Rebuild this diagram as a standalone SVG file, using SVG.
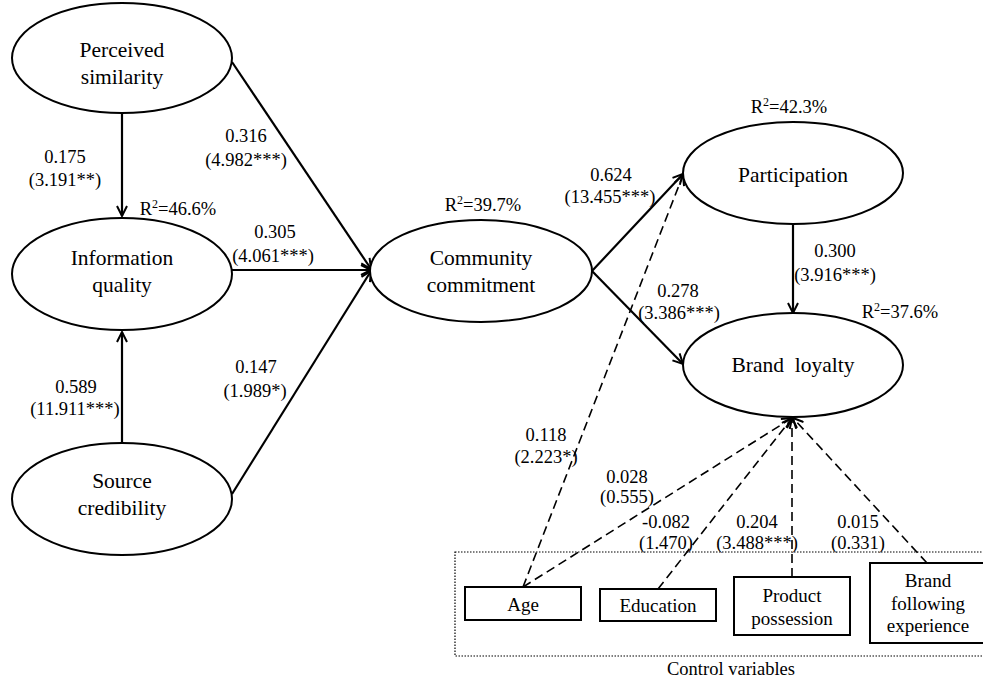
<svg xmlns="http://www.w3.org/2000/svg" width="983" height="679" viewBox="0 0 983 679">
<defs>
<marker id="ah" markerWidth="12" markerHeight="12" refX="11" refY="6" orient="auto" markerUnits="userSpaceOnUse">
<path d="M1,1 L11,6 L1,11" fill="none" stroke="#000" stroke-width="2"/>
</marker>
</defs>
<rect x="455" y="552" width="540" height="104" fill="none" stroke="#000" stroke-width="1.2" stroke-dasharray="1.5,1.5"/>
<g id="connectors" fill="none" stroke="#000">
<g stroke-width="2.2">
<line x1="122" y1="113" x2="122" y2="216" marker-end="url(#ah)"/>
<line x1="122" y1="443" x2="122" y2="332" marker-end="url(#ah)"/>
<line x1="232" y1="62" x2="371" y2="269" marker-end="url(#ah)"/>
<line x1="232" y1="270" x2="371" y2="270" marker-end="url(#ah)"/>
<line x1="232" y1="494" x2="371" y2="271" marker-end="url(#ah)"/>
<line x1="592" y1="271" x2="683" y2="174" marker-end="url(#ah)"/>
<line x1="592" y1="271" x2="683" y2="364" marker-end="url(#ah)"/>
<line x1="793" y1="225" x2="793" y2="313" marker-end="url(#ah)"/>
</g>
<g stroke-width="1.6" stroke-dasharray="9,5">
<line x1="523" y1="587" x2="683" y2="175" marker-end="url(#ah)"/>
<line x1="523" y1="587" x2="792" y2="418" marker-end="url(#ah)"/>
<line x1="658" y1="589" x2="792" y2="418" marker-end="url(#ah)"/>
<line x1="792" y1="577" x2="792" y2="418" marker-end="url(#ah)"/>
<line x1="927" y1="563" x2="793" y2="418" marker-end="url(#ah)"/>
</g>
</g>
<g fill="#fff" stroke="#000" stroke-width="2">
<ellipse id="perceived-similarity-shape" cx="122" cy="58" rx="110" ry="55"/>
<ellipse id="information-quality-shape" cx="122" cy="274" rx="110" ry="56"/>
<ellipse id="source-credibility-shape" cx="122" cy="499" rx="110" ry="56"/>
<ellipse id="community-commitment-shape" cx="481" cy="271" rx="111" ry="51"/>
<ellipse id="participation-shape" cx="793" cy="173" rx="110" ry="51"/>
<ellipse id="brand-loyalty-shape" cx="793" cy="365" rx="110" ry="52"/>
<rect id="age-shape" x="465" y="587" width="116" height="33"/>
<rect id="education-shape" x="600" y="589" width="116" height="32"/>
<rect id="product-possession-shape" x="734" y="577" width="116" height="58"/>
<rect id="brand-following-experience-shape" x="870" y="563" width="118" height="80"/>
</g>
<g id="perceived-similarity">
<text font-family="Liberation Serif" font-size="21.5" text-anchor="middle" x="122" y="57">Perceived</text>
<text font-family="Liberation Serif" font-size="21.5" text-anchor="middle" x="122" y="84">similarity</text>
</g>
<g id="information-quality">
<text font-family="Liberation Serif" font-size="21.5" text-anchor="middle" x="122" y="265">Information</text>
<text font-family="Liberation Serif" font-size="21.5" text-anchor="middle" x="122" y="292">quality</text>
</g>
<g id="source-credibility">
<text font-family="Liberation Serif" font-size="21.5" text-anchor="middle" x="122" y="488">Source</text>
<text font-family="Liberation Serif" font-size="21.5" text-anchor="middle" x="122" y="515">credibility</text>
</g>
<g id="community-commitment">
<text font-family="Liberation Serif" font-size="21.5" text-anchor="middle" x="481" y="265">Community</text>
<text font-family="Liberation Serif" font-size="21.5" text-anchor="middle" x="481" y="292">commitment</text>
</g>
<g id="participation">
<text font-family="Liberation Serif" font-size="21.5" text-anchor="middle" x="793" y="182">Participation</text>
</g>
<g id="brand-loyalty">
<text font-family="Liberation Serif" font-size="21.5" text-anchor="middle" x="793" y="372" xml:space="preserve">Brand  loyalty</text>
</g>
<g id="age">
<text font-family="Liberation Serif" font-size="19" text-anchor="middle" x="523" y="611">Age</text>
</g>
<g id="education">
<text font-family="Liberation Serif" font-size="19" text-anchor="middle" x="658" y="612">Education</text>
</g>
<g id="product-possession">
<text font-family="Liberation Serif" font-size="19" text-anchor="middle" x="792" y="602">Product</text>
<text font-family="Liberation Serif" font-size="19" text-anchor="middle" x="792" y="625">possession</text>
</g>
<g id="brand-following-experience">
<text font-family="Liberation Serif" font-size="19" text-anchor="middle" x="928" y="587">Brand</text>
<text font-family="Liberation Serif" font-size="19" text-anchor="middle" x="928" y="610">following</text>
<text font-family="Liberation Serif" font-size="19" text-anchor="middle" x="928" y="632">experience</text>
</g>
<g id="labels">
<text font-family="Liberation Serif" font-size="18.5" text-anchor="middle" x="65" y="163">0.175</text>
<text font-family="Liberation Serif" font-size="18.5" text-anchor="middle" x="65" y="186">(3.191**)</text>
<text font-family="Liberation Serif" font-size="18.5" text-anchor="middle" x="246" y="142">0.316</text>
<text font-family="Liberation Serif" font-size="18.5" text-anchor="middle" x="246" y="166">(4.982***)</text>
<text font-family="Liberation Serif" font-size="18.5" text-anchor="middle" x="178" y="215">R<tspan font-size="12" dy="-7">2</tspan><tspan dy="7">=46.6%</tspan></text>
<text font-family="Liberation Serif" font-size="18.5" text-anchor="middle" x="275" y="238">0.305</text>
<text font-family="Liberation Serif" font-size="18.5" text-anchor="middle" x="273" y="262">(4.061***)</text>
<text font-family="Liberation Serif" font-size="18.5" text-anchor="middle" x="76" y="393">0.589</text>
<text font-family="Liberation Serif" font-size="18.5" text-anchor="middle" x="75" y="415">(11.911***)</text>
<text font-family="Liberation Serif" font-size="18.5" text-anchor="middle" x="256" y="373">0.147</text>
<text font-family="Liberation Serif" font-size="18.5" text-anchor="middle" x="255" y="397">(1.989*)</text>
<text font-family="Liberation Serif" font-size="18.5" text-anchor="middle" x="483" y="211">R<tspan font-size="12" dy="-7">2</tspan><tspan dy="7">=39.7%</tspan></text>
<text font-family="Liberation Serif" font-size="18.5" text-anchor="middle" x="611" y="181">0.624</text>
<text font-family="Liberation Serif" font-size="18.5" text-anchor="middle" x="610" y="203">(13.455***)</text>
<text font-family="Liberation Serif" font-size="18.5" text-anchor="middle" x="678" y="297">0.278</text>
<text font-family="Liberation Serif" font-size="18.5" text-anchor="middle" x="679" y="319">(3.386***)</text>
<text font-family="Liberation Serif" font-size="18.5" text-anchor="middle" x="789" y="113">R<tspan font-size="12" dy="-7">2</tspan><tspan dy="7">=42.3%</tspan></text>
<text font-family="Liberation Serif" font-size="18.5" text-anchor="middle" x="835" y="257">0.300</text>
<text font-family="Liberation Serif" font-size="18.5" text-anchor="middle" x="835" y="281">(3.916***)</text>
<text font-family="Liberation Serif" font-size="18.5" text-anchor="middle" x="900" y="318">R<tspan font-size="12" dy="-7">2</tspan><tspan dy="7">=37.6%</tspan></text>
<text font-family="Liberation Serif" font-size="18.5" text-anchor="middle" x="546" y="441">0.118</text>
<text font-family="Liberation Serif" font-size="18.5" text-anchor="middle" x="546" y="463">(2.223*)</text>
<text font-family="Liberation Serif" font-size="18.5" text-anchor="middle" x="627" y="483">0.028</text>
<text font-family="Liberation Serif" font-size="18.5" text-anchor="middle" x="627" y="503">(0.555)</text>
<text font-family="Liberation Serif" font-size="18.5" text-anchor="middle" x="666" y="528">-0.082</text>
<text font-family="Liberation Serif" font-size="18.5" text-anchor="middle" x="666" y="549">(1.470)</text>
<text font-family="Liberation Serif" font-size="18.5" text-anchor="middle" x="757" y="528">0.204</text>
<text font-family="Liberation Serif" font-size="18.5" text-anchor="middle" x="757" y="549">(3.488***)</text>
<text font-family="Liberation Serif" font-size="18.5" text-anchor="middle" x="858" y="528">0.015</text>
<text font-family="Liberation Serif" font-size="18.5" text-anchor="middle" x="858" y="549">(0.331)</text>
<text font-family="Liberation Serif" font-size="18.5" text-anchor="middle" x="731" y="675">Control variables</text>
</g>
</svg>
